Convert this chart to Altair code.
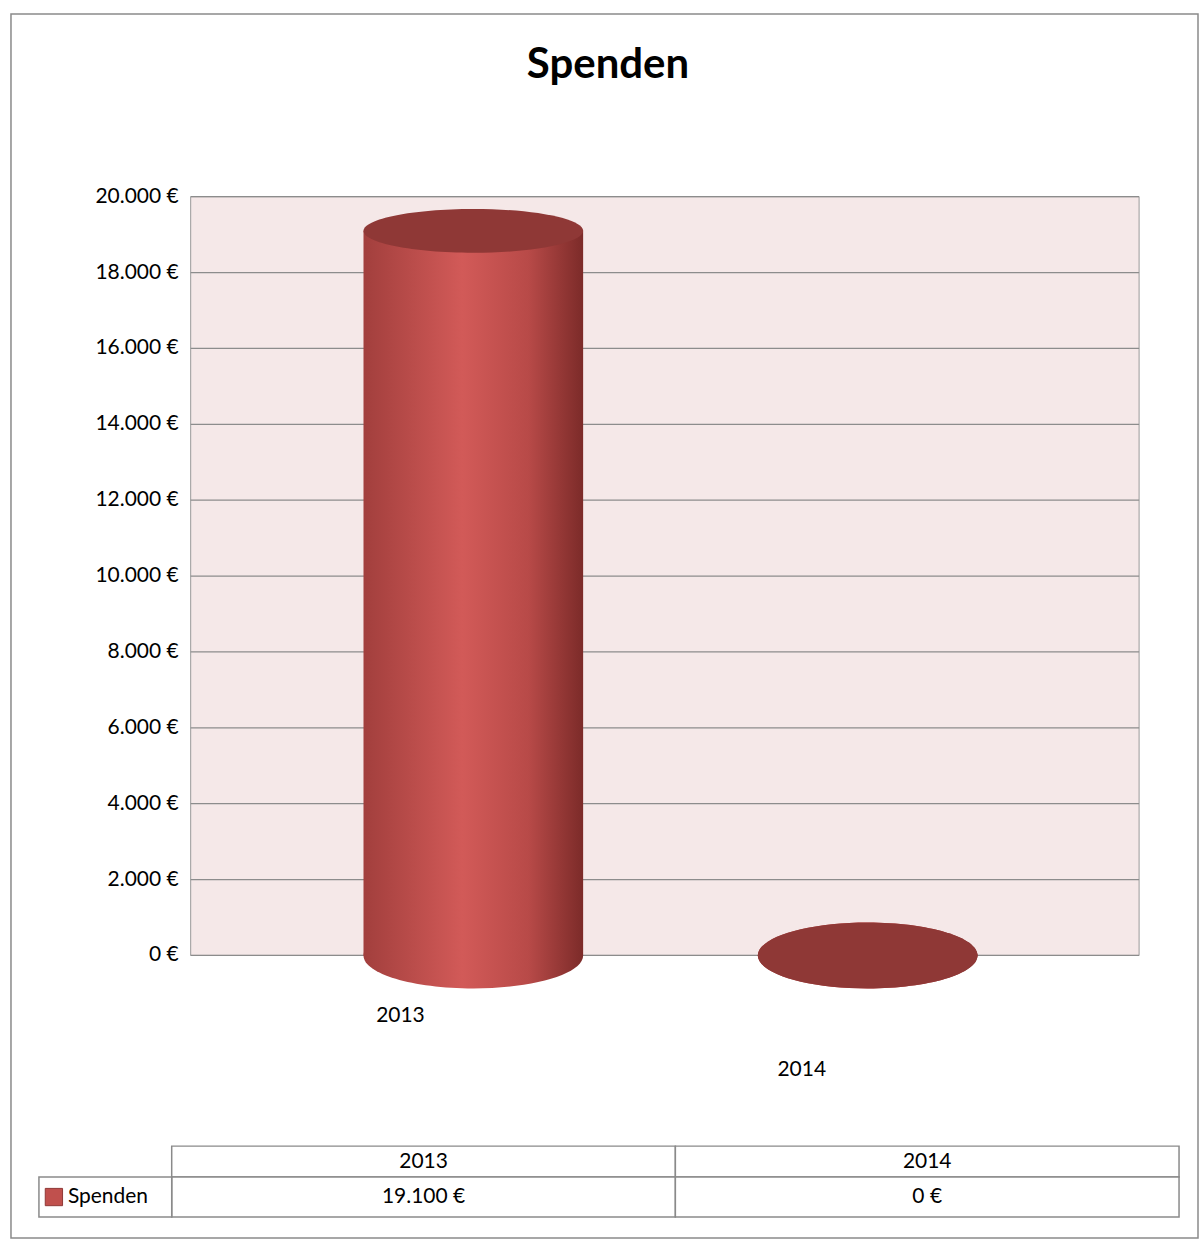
import altair as alt
import pandas as pd

# ---- data ----
years = ["2013", "2014"]
spenden = [19100, 0]
series_name = "Spenden"
tick_values = [0, 2000, 4000, 6000, 8000, 10000, 12000, 14000, 16000, 18000, 20000]
tick_labels = ["0 €", "2.000 €", "4.000 €", "6.000 €", "8.000 €", "10.000 €",
               "12.000 €", "14.000 €", "16.000 €", "18.000 €", "20.000 €"]
title_text = "Spenden"

FONT = "Lato"

def fmt_eur(v):
    return f"{v:,.0f} €".replace(",", ".")

bars = pd.DataFrame({"year": years, "value": spenden})
ticks = pd.DataFrame({"tick": tick_values, "label": tick_labels})
one = pd.DataFrame({"a": [0]})

W, H = 1142, 760
xscale = alt.Scale(domain=years, paddingInner=0, paddingOuter=0.4456, align=0.675)
yscale = alt.Scale(domain=[0, 20000])
X = alt.X("year:N", scale=xscale, axis=None)

cyl_grad = alt.Gradient(
    gradient="linear", x1=0, x2=1, y1=0, y2=0,
    stops=[alt.GradientStop(offset=0, color="#a23f3d"),
           alt.GradientStop(offset=0.45, color="#d25a58"),
           alt.GradientStop(offset=0.75, color="#b84a48"),
           alt.GradientStop(offset=1, color="#7c2b29")])
ellipse_top = "M -1 0 A 1 0.2 0 1 0 1 0 A 1 0.2 0 1 0 -1 0 Z"
ellipse_bot = "M -1 0 A 1 0.3 0 1 0 1 0 A 1 0.3 0 1 0 -1 0 Z"
BAR_W = 220

frame = alt.Chart(one).mark_rect(fillOpacity=0, stroke="#8a8a8a", strokeWidth=1.5).encode(
    x=alt.value(-28), x2=alt.value(1161), y=alt.value(-183), y2=alt.value(1043))

wall = alt.Chart(one).mark_rect(fill="#f5e8e8", stroke="#9a9a9a", strokeWidth=1).encode(
    x=alt.value(152), x2=alt.value(1102), y=alt.value(0), y2=alt.value(H))

grid = alt.Chart(ticks).mark_rule(color="#8c8c8c", strokeWidth=1.2).encode(
    y=alt.Y("tick:Q", scale=yscale, axis=None), x=alt.value(152), x2=alt.value(1102))

ylabels = alt.Chart(ticks).mark_text(align="right", baseline="middle", fontSize=21,
                                     font=FONT, color="black").encode(
    y=alt.Y("tick:Q", scale=yscale, axis=None), x=alt.value(140), text="label:N")

bottom_ell = alt.Chart(bars).transform_calculate(base="0").mark_point(
    shape=ellipse_bot, filled=True, fill=cyl_grad,
    size=BAR_W * BAR_W, opacity=1, strokeWidth=0).encode(
    x=X, y=alt.Y("base:Q", scale=yscale, axis=None))

cyl = alt.Chart(bars).mark_bar(size=BAR_W, fill=cyl_grad).encode(
    x=X, y=alt.Y("value:Q", scale=yscale, axis=None))

top_ell = alt.Chart(bars).mark_point(shape=ellipse_top, filled=True, fill="#8f3836",
                                     size=BAR_W * BAR_W, opacity=1, strokeWidth=0).encode(
    x=X, y=alt.Y("value:Q", scale=yscale, axis=None))

zero_ell = alt.Chart(bars).transform_filter(alt.datum.value == 0).mark_point(
    shape=ellipse_bot, filled=True, fill="#8f3836",
    size=BAR_W * BAR_W, opacity=1, strokeWidth=0).encode(
    x=X, y=alt.Y("value:Q", scale=yscale, axis=None))

xlab_a = alt.Chart(bars).transform_filter(alt.datum.year == years[0]).mark_text(
    fontSize=21, font=FONT, color="black", dx=-73, baseline="middle").encode(
    x=X, y=alt.value(821), text="year:N")
xlab_b = alt.Chart(bars).transform_filter(alt.datum.year == years[1]).mark_text(
    fontSize=21, font=FONT, color="black", dx=-66, baseline="middle").encode(
    x=X, y=alt.value(875), text="year:N")

title = alt.Chart(pd.DataFrame({"t": [title_text]})).mark_text(
    fontSize=42, font=FONT, fontWeight="bold", color="black", baseline="middle").encode(
    x=alt.value(570), y=alt.value(-132), text="t:N")

main = alt.layer(frame, wall, grid, ylabels, bottom_ell, cyl, top_ell, zero_ell,
                 xlab_a, xlab_b, title).properties(width=W, height=H)

# ---- data table (label column 133px, two value columns of 504.5px) ----
tbl = pd.DataFrame({"year": years, "label": [fmt_eur(v) for v in spenden]})
TX = alt.X("year:N", scale=alt.Scale(domain=years, paddingInner=0,
                                     paddingOuter=0.1318, align=1), axis=None)
cell_stroke = "#8a8a8a"
HDR_H, ROW_H = 31, 40

table = alt.layer(
    alt.Chart(tbl).mark_rect(fill="white", stroke=cell_stroke, strokeWidth=1.5).encode(
        x=TX, y=alt.value(0), y2=alt.value(HDR_H)),
    alt.Chart(tbl).mark_text(fontSize=21, font=FONT, color="black", baseline="middle").encode(
        x=TX, y=alt.value(HDR_H / 2), text="year:N"),
    alt.Chart(tbl).mark_rect(fill="white", stroke=cell_stroke, strokeWidth=1.5).encode(
        x=TX, y=alt.value(HDR_H), y2=alt.value(HDR_H + ROW_H)),
    alt.Chart(tbl).mark_text(fontSize=21, font=FONT, color="black", baseline="middle").encode(
        x=TX, y=alt.value(HDR_H + ROW_H / 2), text="label:N"),
    alt.Chart(one).mark_rect(fill="white", stroke=cell_stroke, strokeWidth=1.5).encode(
        x=alt.value(0), x2=alt.value(133), y=alt.value(HDR_H), y2=alt.value(HDR_H + ROW_H)),
    alt.Chart(pd.DataFrame({"s": [series_name]})).mark_point(
        shape="square", filled=True, fill="#c0504d", stroke="#8f3836", strokeWidth=1,
        size=300, opacity=1).encode(x=alt.value(15), y=alt.value(HDR_H + ROW_H / 2)),
    alt.Chart(pd.DataFrame({"s": [series_name]})).mark_text(
        align="left", baseline="middle", fontSize=21, font=FONT, color="black").encode(
        x=alt.value(29), y=alt.value(HDR_H + ROW_H / 2), text="s:N"),
).properties(width=W, height=HDR_H + ROW_H)

chart = alt.vconcat(main, table, spacing=191, bounds="flush").properties(
    padding={"left": 9, "top": 11, "right": 0, "bottom": 0},
    background="white",
).configure_view(stroke="transparent")

chart.save("out.html", embed_options={"renderer": "svg", "actions": False})
